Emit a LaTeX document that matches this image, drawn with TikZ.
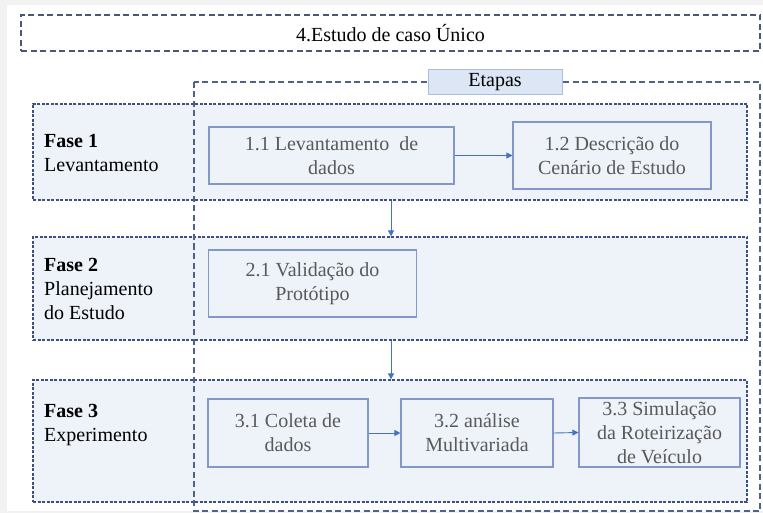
\documentclass[tikz,border=0pt]{standalone}
\usepackage{fontspec}
\setmainfont{Liberation Serif}
\usepackage{tikz}
\usetikzlibrary{arrows.meta}
\usepackage{xcolor}

\definecolor{bandfill}{HTML}{EEF3FA}
\definecolor{bandline}{HTML}{3E4F80}
\definecolor{titleline}{HTML}{4A5775}
\definecolor{boxline}{HTML}{8497C9}
\definecolor{boxtext}{HTML}{595959}
\definecolor{arrowblue}{HTML}{4472C4}
\definecolor{etapasfill}{HTML}{DCE6F4}
\definecolor{etapasline}{HTML}{A8BDE0}

\begin{document}
\begin{tikzpicture}[x=1pt,y=-1pt,
  txt/.style={font=\fontsize{20}{24}\selectfont},
  band/.style={draw=bandline,fill=bandfill,line width=1.2pt,dash pattern=on 3pt off 1.5pt,inner sep=0pt},
  stagebox/.style={draw=boxline,fill=bandfill,line width=1.1pt,txt,text=boxtext,align=center,inner sep=1pt},
  arr/.style={draw=arrowblue,line width=0.9pt,-{Triangle[width=6pt,length=6pt]}}]
\useasboundingbox (0,0) rectangle (763,513);

% background with the thin grey frame
\fill[black!5] (0,0) rectangle (763,513);
\fill[white] (7,5) rectangle (763,511);

% Title
\node[draw=titleline,line width=1.3pt,dash pattern=on 6pt off 3.5pt,minimum width=739pt,minimum height=36pt,inner sep=0pt,txt] (title) at (390.5,33) {4.Estudo de caso Único};

% Phases (bands)
\node[band,minimum width=714pt,minimum height=96pt] (fase1) at (390,152) {};
\node[band,minimum width=714pt,minimum height=103pt] (fase2) at (390,288.5) {};
\node[band,minimum width=714pt,minimum height=122pt] (fase3) at (390,441) {};

\node[txt,align=left,anchor=north west,inner sep=0pt] (lab1) at (44,134.5) {\textbf{Fase 1}\\Levantamento};
\node[txt,align=left,anchor=north west,inner sep=0pt] (lab2) at (44,258.5) {\textbf{Fase 2}\\Planejamento\\do Estudo};
\node[txt,align=left,anchor=north west,inner sep=0pt] (lab3) at (44,404.5) {\textbf{Fase 3}\\Experimento};

% Etapas container
\draw[bandline!90,line width=1.3pt,dash pattern=on 6pt off 3.5pt] (194,82) rectangle (760,511);
\node[draw=etapasline,fill=etapasfill,line width=1pt,minimum width=134pt,minimum height=25pt,inner sep=0pt,txt] (etapas) at (495,82.5) {Etapas};

% Stages
\node[stagebox,minimum width=245pt,minimum height=57pt] (b11) at (331.5,155.5) {1.1 Levantamento \ de\\dados};
\node[stagebox,minimum width=198pt,minimum height=67pt] (b12) at (612,155.5) {1.2 Descrição do\\Cenário de Estudo};
\node[stagebox,minimum width=208pt,minimum height=67pt] (b21) at (312.5,283.5) {2.1 Validação do\\Protótipo};
\node[stagebox,minimum width=160pt,minimum height=68pt] (b31) at (288,433) {3.1 Coleta de\\dados};
\node[stagebox,minimum width=152pt,minimum height=68pt] (b32) at (477,433) {3.2 análise\\Multivariada};
\node[stagebox,minimum width=161pt,minimum height=69pt] (b33) at (659.5,432.5) {3.3 Simulação\\da Roteirização\\de Veículo};

% Arrows
\coordinate (mid) at (391,0);
\draw[arr] (b11.east) -- (b12.west);
\draw[arr] (fase1.south -| mid) -- (fase2.north -| mid);
\draw[arr] (fase2.south -| mid) -- (fase3.north -| mid);
\draw[arr] (b31.east) -- (b32.west);
\draw[arr] (b32.east) -- (b33.west);

\end{tikzpicture}
\end{document}
